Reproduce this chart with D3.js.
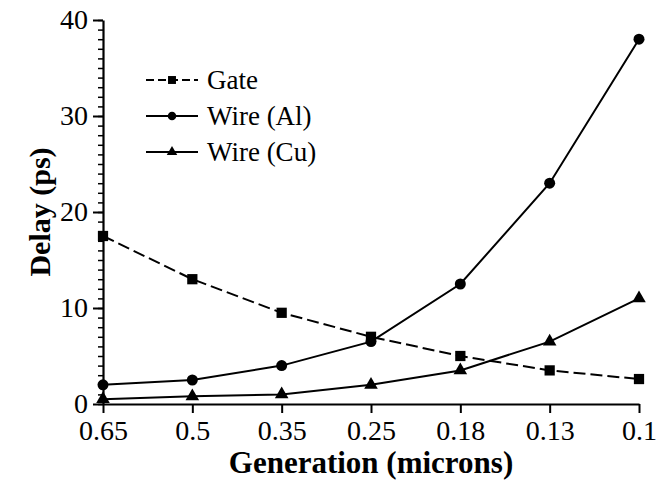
<!DOCTYPE html>
<html>
<head>
<meta charset="utf-8">
<script src="https://cdn.jsdelivr.net/npm/d3@7"></script>
<style>
  body { margin: 0; background: #fff; }
</style>
</head>
<body>
<div class="container_graph"></div>
<script>
// datos
const generations = ["0.65", "0.5", "0.35", "0.25", "0.18", "0.13", "0.1"];
const gateDelay = [17.5, 13.0, 9.5, 7.0, 5.0, 3.5, 2.6];
const wireAl = [2.0, 2.5, 4.0, 6.5, 12.5, 23.0, 38.0];
const wireCu = [0.5, 0.8, 1.0, 2.0, 3.5, 6.5, 11.0];
const yTicks = [0, 10, 20, 30, 40];

const font = "'Liberation Serif', 'Times New Roman', Times, serif";

const width = 657;
const height = 485;
const margin = { top: 20, right: 18, bottom: 81, left: 103 };

const svg = d3
  .select(".container_graph")
  .append("svg")
  .attr("width", width)
  .attr("height", height)
  .style("font-family", font);

const x = d3
  .scalePoint()
  .domain(generations)
  .range([margin.left, width - margin.right]);

const y = d3
  .scaleLinear()
  .domain([0, 40])
  .range([height - margin.bottom, margin.top]);

// ejes
const yAxis = svg
  .append("g")
  .attr("transform", `translate(${margin.left},0)`);

yAxis
  .append("g")
  .call(d3.axisLeft(y).tickValues(d3.range(0, 41, 1)).tickSize(5).tickFormat(""))
  .call((g) => g.select(".domain").remove())
  .selectAll("line")
  .attr("stroke-width", 1.5);

yAxis
  .append("g")
  .call(d3.axisLeft(y).tickValues(yTicks).tickSize(10).tickSizeOuter(0).tickPadding(5))
  .call((g) => g.select(".domain").attr("stroke-width", 2.2))
  .call((g) => g.selectAll("line").attr("stroke-width", 2))
  .call((g) =>
    g.selectAll("text").style("font-size", "28px").style("font-family", font)
  );

svg
  .append("g")
  .attr("transform", `translate(0,${y(0)})`)
  .call(d3.axisBottom(x).tickSize(9).tickSizeOuter(0).tickPadding(7))
  .call((g) => g.select(".domain").attr("stroke-width", 2.2))
  .call((g) => g.selectAll("line").attr("stroke-width", 2))
  .call((g) =>
    g.selectAll("text").style("font-size", "28px").style("font-family", font)
  );

// titulos de ejes
svg
  .append("text")
  .attr("x", (margin.left + width - margin.right) / 2)
  .attr("y", 473)
  .attr("text-anchor", "middle")
  .style("font-size", "31px")
  .style("font-weight", "bold")
  .text("Generation (microns)");

svg
  .append("text")
  .attr("transform", `translate(50,${y(20)}) rotate(-90)`)
  .attr("text-anchor", "middle")
  .style("font-size", "30px")
  .style("font-weight", "bold")
  .text("Delay (ps)");

// series
const series = [
  { name: "Gate", values: gateDelay, dash: "12,5", symbol: d3.symbolSquare, size: 105 },
  { name: "Wire (Al)", values: wireAl, dash: null, symbol: d3.symbolCircle, size: 95 },
  { name: "Wire (Cu)", values: wireCu, dash: null, symbol: d3.symbolTriangle, size: 80 },
];

const line = d3
  .line()
  .x((d, i) => x(generations[i]))
  .y((d) => y(d));

series.forEach((s) => {
  svg
    .append("path")
    .datum(s.values)
    .attr("fill", "none")
    .attr("stroke", "#000")
    .attr("stroke-width", 2)
    .attr("stroke-dasharray", s.dash)
    .attr("d", line);

  svg
    .append("g")
    .selectAll("path")
    .data(s.values)
    .join("path")
    .attr("transform", (d, i) => `translate(${x(generations[i])},${y(d)})`)
    .attr("d", d3.symbol().type(s.symbol).size(s.size))
    .attr("fill", "#000");
});

// leyenda
const legend = svg.append("g").attr("transform", "translate(146,80)");

const item = legend
  .selectAll("g")
  .data(series)
  .join("g")
  .attr("transform", (d, i) => `translate(0,${i * 36})`);

item
  .append("line")
  .attr("x1", 0)
  .attr("x2", 52)
  .attr("stroke", "#000")
  .attr("stroke-width", 2)
  .attr("stroke-dasharray", (d) => (d.dash ? "8,4" : null));

item
  .append("path")
  .attr("transform", "translate(26,0)")
  .attr("d", (d) => d3.symbol().type(d.symbol).size(d.size * 0.6)())
  .attr("fill", "#000");

item
  .append("text")
  .attr("x", 61)
  .attr("dy", "0.33em")
  .style("font-size", "27px")
  .text((d) => d.name);
</script>
</body>
</html>
